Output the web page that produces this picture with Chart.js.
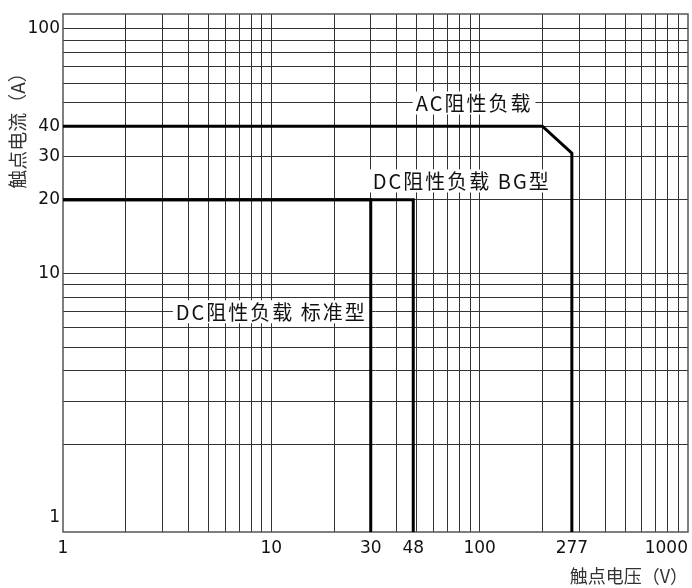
<!DOCTYPE html>
<html>
<head>
<meta charset="utf-8">
<script src="https://cdn.jsdelivr.net/npm/chart.js@4"></script>
<style>
  html, body { margin: 0; padding: 0; background: #fff; }
  #wrap { width: 692px; height: 588px; position: relative; }
</style>
</head>
<body>
<div id="wrap"><canvas id="chart"></canvas></div>
<script>
/* ---- Datos ---- */
const Y_MIN = 0.876;
const Y_MAX = 115;

const acVolt  = [1, 200, 277, 277];
const acAmp   = [40, 40, 31, Y_MIN];
const stdVolt = [1, 30, 30];
const stdAmp  = [20, 20, Y_MIN];
const bgVolt  = [1, 48, 48];
const bgAmp   = [20, 20, Y_MIN];

const xTickValues  = [1, 2, 3, 4, 5, 6, 7, 8, 9, 10, 20, 30, 40, 48, 50, 60, 70, 80, 90,
                      100, 200, 277, 300, 400, 500, 600, 700, 800, 900, 1000];
const xLabelValues = [1, 10, 30, 48, 100, 277, 1000];
const xNoGrid      = [1, 48, 277, 1000];

const yTickValues  = [1, 2, 3, 4, 5, 6, 7, 8, 9, 10, 20, 30, 40, 50, 60, 70, 80, 90, 100];
const yLabelValues = [1, 10, 20, 30, 40, 100];
const yNoGrid      = [1];

const curveNames = ['AC阻性负载', 'DC阻性负载 BG型', 'DC阻性负载 标准型'];
const xTitle = '触点电压（V）';
const yTitle = '触点电流（A）';

/* ---- Helpers ---- */
const toPoints = (xs, ys) => xs.map((x, i) => ({ x, y: ys[i] }));
const INK = '#111';
const GRID = '#333';
const NUM_FONT = '17px "DejaVu Sans"';
const CJK_FONT = '18px "Noto Sans CJK SC", "Noto Sans", sans-serif';
const YT_FONT = '19px "Noto Sans CJK SC", "Noto Sans", sans-serif';
const NOTE_FONT = '20px "Noto Sans CJK SC", "Noto Sans", sans-serif';

// anclas de las etiquetas (en valores de datos)
const notes = [
  { text: curveNames[0], x: 94, y: 50 },
  { text: curveNames[1], x: 82, y: 24 },
  { text: curveNames[2], x: 10, y: 7 },
];

/* ---- Plugin: marco, etiquetas y títulos ---- */
const decorPlugin = {
  id: 'decor',
  beforeDatasetsDraw(chart) {
    const { ctx, chartArea: a, scales } = chart;
    ctx.save();
    // marco
    ctx.strokeStyle = '#555';
    ctx.lineWidth = 1.5;
    ctx.strokeRect(a.left, a.top, a.right - a.left, a.bottom - a.top);

    // etiquetas de curvas con fondo blanco
    ctx.font = NOTE_FONT;
    ctx.letterSpacing = '2px';
    ctx.textAlign = 'center';
    ctx.textBaseline = 'middle';
    notes.forEach(n => {
      const px = scales.x.getPixelForValue(n.x);
      const py = scales.y.getPixelForValue(n.y);
      const w = ctx.measureText(n.text).width;
      ctx.fillStyle = '#fff';
      ctx.fillRect(px - w / 2 - 3, py - 11, w + 6, 23);
      ctx.fillStyle = INK;
      ctx.fillText(n.text, px, py + 1);
    });
    ctx.restore();
  },
  afterDraw(chart) {
    const { ctx, chartArea: a, scales } = chart;
    ctx.save();
    // etiquetas del eje X
    ctx.font = NUM_FONT;
    ctx.fillStyle = INK;
    ctx.textBaseline = 'middle';
    xLabelValues.forEach((v, i) => {
      const px = scales.x.getPixelForValue(v);
      const last = i === xLabelValues.length - 1;
      ctx.textAlign = last ? 'right' : 'center';
      ctx.fillText(String(v), last ? a.right : px, a.bottom + 17);
    });

    // títulos
    ctx.font = CJK_FONT;
    ctx.fillStyle = '#333';
    ctx.textAlign = 'right';
    ctx.fillText(xTitle, a.right, a.bottom + 44);

    ctx.font = YT_FONT;
    ctx.translate(18, 126);
    ctx.rotate(-Math.PI / 2);
    ctx.textAlign = 'center';
    ctx.fillText(yTitle, 0, 0);
    ctx.restore();
  },
};

/* ---- Gráfica ---- */
const lineStyle = {
  borderColor: '#000',
  borderWidth: 3,
  pointRadius: 0,
  tension: 0,
  fill: false,
  borderJoinStyle: 'miter',
};

new Chart(document.getElementById('chart'), {
  type: 'line',
  data: {
    datasets: [
      { label: curveNames[0], data: toPoints(acVolt, acAmp), ...lineStyle },
      { label: curveNames[1], data: toPoints(bgVolt, bgAmp), ...lineStyle },
      { label: curveNames[2], data: toPoints(stdVolt, stdAmp), ...lineStyle },
    ],
  },
  options: {
    responsive: true,
    maintainAspectRatio: false,
    animation: false,
    layout: { padding: { top: 14, right: 4, bottom: 0, left: 0 } },
    plugins: { legend: { display: false }, tooltip: { enabled: false } },
    scales: {
      x: {
        type: 'logarithmic',
        min: 1,
        max: 1000,
        bounds: 'data',
        afterBuildTicks: s => { s.ticks = xTickValues.map(v => ({ value: v })); },
        afterFit: s => { s.height = 56; },
        ticks: { display: false },
        border: { display: false },
        grid: {
          drawTicks: false,
          lineWidth: 1,
          color: c => (c.tick && xNoGrid.includes(c.tick.value)) ? 'rgba(0,0,0,0)' : GRID,
        },
      },
      y: {
        type: 'logarithmic',
        min: Y_MIN,
        max: Y_MAX,
        bounds: 'data',
        afterBuildTicks: s => { s.ticks = yTickValues.map(v => ({ value: v })); },
        afterFit: s => { s.width = 63; },
        ticks: {
          autoSkip: false,
          padding: 3,
          color: INK,
          font: { family: 'DejaVu Sans', size: 17 },
          callback: v => yLabelValues.includes(v) ? String(v) : '',
        },
        border: { display: false },
        grid: {
          drawTicks: false,
          lineWidth: 1,
          color: c => (c.tick && yNoGrid.includes(c.tick.value)) ? 'rgba(0,0,0,0)' : GRID,
        },
      },
    },
  },
  plugins: [decorPlugin],
});
</script>
</body>
</html>
